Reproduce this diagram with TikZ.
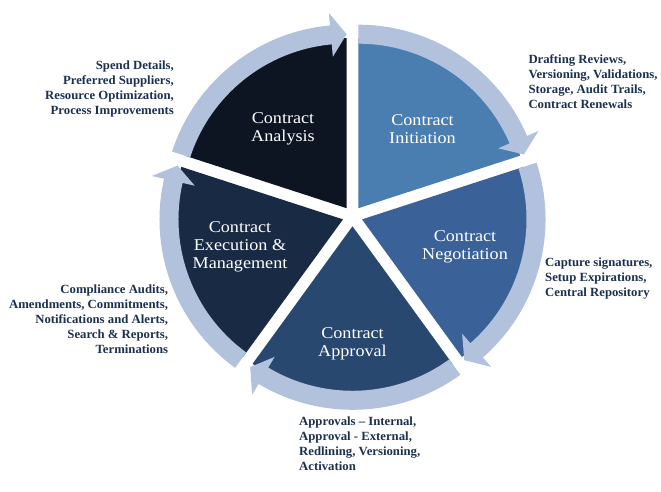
\documentclass[tikz,border=0pt]{standalone}
\usepackage{fontspec}
\newfontfamily\lblfont{Liberation Serif}[FakeStretch=1.1]
\newfontfamily\descfont{Liberation Serif}[FakeStretch=1.02]
\definecolor{secA}{HTML}{0D1522}
\definecolor{secB}{HTML}{4A7DB0}
\definecolor{secC}{HTML}{3B6298}
\definecolor{secD}{HTML}{284870}
\definecolor{secE}{HTML}{192A44}
\definecolor{ringcol}{HTML}{B2C1DC}
\definecolor{txtc}{HTML}{1C3050}
\begin{document}
\begin{tikzpicture}[x=1pt,y=1pt,
  lbl/.style={text=white, font=\lblfont\fontsize{16.5}{18}\selectfont, align=center, inner sep=0pt},
  desc/.style={text=txtc, font=\descfont\bfseries\fontsize{12.5}{15}\selectfont, inner sep=0pt}]
\useasboundingbox (0,0) rectangle (661,492);
\fill[white] (0,0) rectangle (661,492);
\coordinate (C) at (352.5,275.7);
\foreach \t/\col in {126/secA,54/secB,-18/secC,-90/secD,-162/secE}{
  \begin{scope}[shift={(C)},shift={(\t:10)}]
    \pgfmathsetmacro\as{\t+36}
    \pgfmathsetmacro\ae{\t-36}
    \pgfmathsetmacro\ab{\t-36+5.2}
    \fill[\col] (0,0) -- (\as:170) arc[start angle=\as,end angle=\ae,radius=170] -- cycle;
    \fill[ringcol] (\as:183.5) arc[start angle=\as,end angle=\ab,radius=183.5]
      -- (\ab:196) -- (\ae:174) -- (\ab:152) -- (\ab:164.5)
      arc[start angle=\ab,end angle=\as,radius=164.5] -- cycle;
  \end{scope}
}
\node[lbl] (lA) at (283,363) {Contract\\Analysis};
\node[lbl] (lB) at (422.5,363) {Contract\\Initiation};
\node[lbl] (lC) at (465,245) {Contract\\Negotiation};
\node[lbl] (lD) at (352.5,148) {Contract\\Approval};
\node[lbl] (lE) at (240,245.3) {Contract\\Execution \&\\Management};
\node[desc, anchor=east, align=right] (dA) at (174,403) {Spend Details,\\Preferred Suppliers,\\Resource Optimization,\\Process Improvements};
\node[desc, anchor=west, align=left] (dB) at (528.3,410) {Drafting Reviews,\\Versioning, Validations,\\Storage, Audit Trails,\\Contract Renewals};
\node[desc, anchor=west, align=left] (dC) at (545,213.7) {Capture signatures,\\Setup Expirations,\\Central Repository};
\node[desc, anchor=east, align=right] (dE) at (168.3,172.8) {Compliance Audits,\\Amendments, Commitments,\\Notifications and Alerts,\\Search \& Reports,\\Terminations};
\node[desc, anchor=west, align=left] (dD) at (299,47.8) {Approvals – Internal,\\Approval - External,\\Redlining, Versioning,\\Activation};
\end{tikzpicture}
\end{document}
